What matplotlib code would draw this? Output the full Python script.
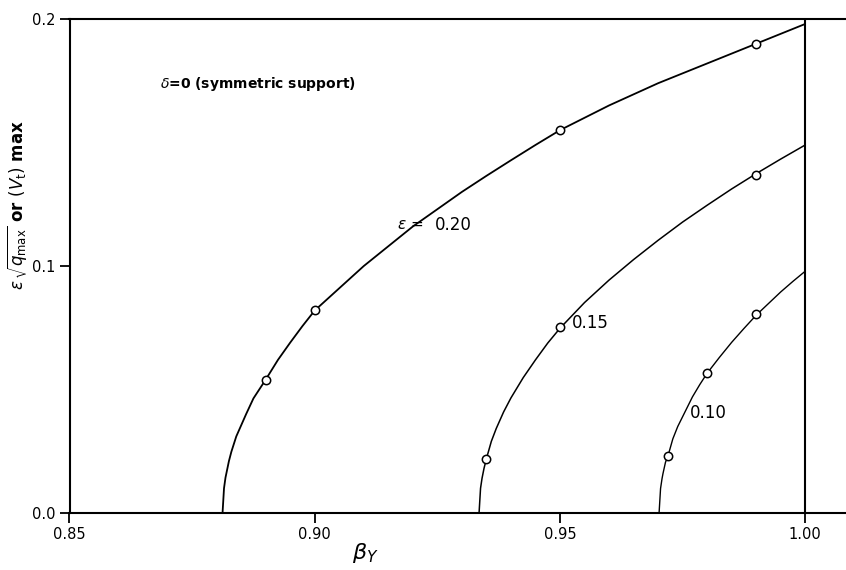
import numpy as np
import matplotlib.pyplot as plt

# measured points (open circles) for each eccentricity
eps_020_x = [0.89, 0.90, 0.95, 0.99]
eps_020_y = [0.054, 0.082, 0.155, 0.190]
eps_015_x = [0.935, 0.95, 0.99]
eps_015_y = [0.022, 0.0754, 0.137]
eps_010_x = [0.972, 0.98, 0.99]
eps_010_y = [0.023, 0.0566, 0.0804]

# traced curves through the points
curve_020_x = [0.8812, 0.8815, 0.8818, 0.8825, 0.883, 0.884, 0.886, 0.8875, 0.89,
               0.8925, 0.895, 0.8975, 0.90, 0.905, 0.91, 0.915, 0.92, 0.925, 0.93,
               0.935, 0.94, 0.945, 0.95, 0.955, 0.96, 0.965, 0.97, 0.975, 0.98,
               0.985, 0.99, 0.995, 1.00]
curve_020_y = [0.0, 0.010, 0.0143, 0.021, 0.0248, 0.031, 0.040, 0.0464, 0.054,
               0.062, 0.069, 0.0757, 0.082, 0.091, 0.100, 0.108, 0.116, 0.123, 0.130,
               0.1365, 0.1428, 0.149, 0.155, 0.160, 0.165, 0.1695, 0.174, 0.178, 0.182,
               0.186, 0.190, 0.194, 0.198]
curve_015_x = [0.9335, 0.9338, 0.9341, 0.9345, 0.935, 0.936, 0.937, 0.9385, 0.940,
               0.9425, 0.945, 0.9475, 0.95, 0.955, 0.96, 0.965, 0.97, 0.975, 0.98,
               0.985, 0.99, 0.995, 1.00]
curve_015_y = [0.0, 0.010, 0.014, 0.018, 0.022, 0.029, 0.0342, 0.0409, 0.0466,
               0.0548, 0.0620, 0.0688, 0.0748, 0.0852, 0.0943, 0.1026, 0.1104, 0.1178,
               0.1246, 0.1312, 0.1374, 0.1433, 0.149]
curve_010_x = [0.9702, 0.9705, 0.9708, 0.971, 0.9715, 0.972, 0.973, 0.974, 0.9755,
               0.977, 0.9785, 0.98, 0.9825, 0.985, 0.9875, 0.99, 0.9925, 0.995,
               0.9975, 1.00]
curve_010_y = [0.0, 0.0099, 0.0139, 0.016, 0.0205, 0.023, 0.030, 0.035, 0.041,
               0.047, 0.052, 0.0566, 0.063, 0.0691, 0.0747, 0.0801, 0.0848, 0.0895,
               0.0938, 0.0979]

x_ticks = [0.85, 0.90, 0.95, 1.00]
x_ticklabels = ['0.85', '0.90', '0.95', '1.00']
y_ticks = [0.0, 0.1, 0.2]
y_ticklabels = ['0.0', '0.1', '0.2']

fig = plt.figure(figsize=(8.46, 5.70), dpi=100)
ax = fig.add_axes([69.5 / 846, 1 - 513 / 570, 1 - 69.5 / 846, (513 - 19) / 570])

for cx, cy, lw in [(curve_020_x, curve_020_y, 1.3), (curve_015_x, curve_015_y, 1.1),
                   (curve_010_x, curve_010_y, 1.0)]:
    ax.plot(cx, cy, color='black', lw=lw, solid_capstyle='butt', solid_joinstyle='round')

for px, py in [(eps_020_x, eps_020_y), (eps_015_x, eps_015_y), (eps_010_x, eps_010_y)]:
    ax.plot(px, py, 'o', ms=6, mfc='white', mec='black', mew=1.1, zorder=3)

# vertical line at beta = 1
ax.axvline(1.0, color='black', lw=1.5)

ax.set_xlim(0.85, 0.85 + 776.5 / 4905)
ax.set_ylim(0.0, 0.2)
ax.set_xticks(x_ticks)
ax.set_xticklabels(x_ticklabels)
ax.set_yticks(y_ticks)
ax.set_yticklabels(y_ticklabels)
ax.tick_params(direction='out', length=7, width=1.3, labelsize=10.5, pad=3)

for side in ['left', 'bottom', 'top']:
    ax.spines[side].set_linewidth(1.5)
ax.spines['right'].set_visible(False)

ax.text(0.8685, 0.1737, r'$\delta$=0 (symmetric support)', fontsize=10,
        fontweight='bold', va='center', ha='left')
ax.text(0.9168, 0.1166, r'$\epsilon$ =', fontsize=11, va='center', ha='left')
ax.text(0.9245, 0.1166, '0.20', fontsize=12, va='center', ha='left')
ax.text(0.9525, 0.0769, '0.15', fontsize=12, va='center', ha='left')
ax.text(0.9765, 0.0405, '0.10', fontsize=12, va='center', ha='left')

fig.text(365 / 846, 1 - 553 / 570, r'$\beta_Y$', fontsize=16, ha='center', va='center')
fig.text(18 / 846, 1 - 205 / 570, r'$\epsilon\,\sqrt{q_{\rm max}}$ or $(V_{\rm t})$ max',
         fontsize=12, fontweight='bold', rotation=90, ha='center', va='center')

fig.savefig('out.png', dpi=100)
